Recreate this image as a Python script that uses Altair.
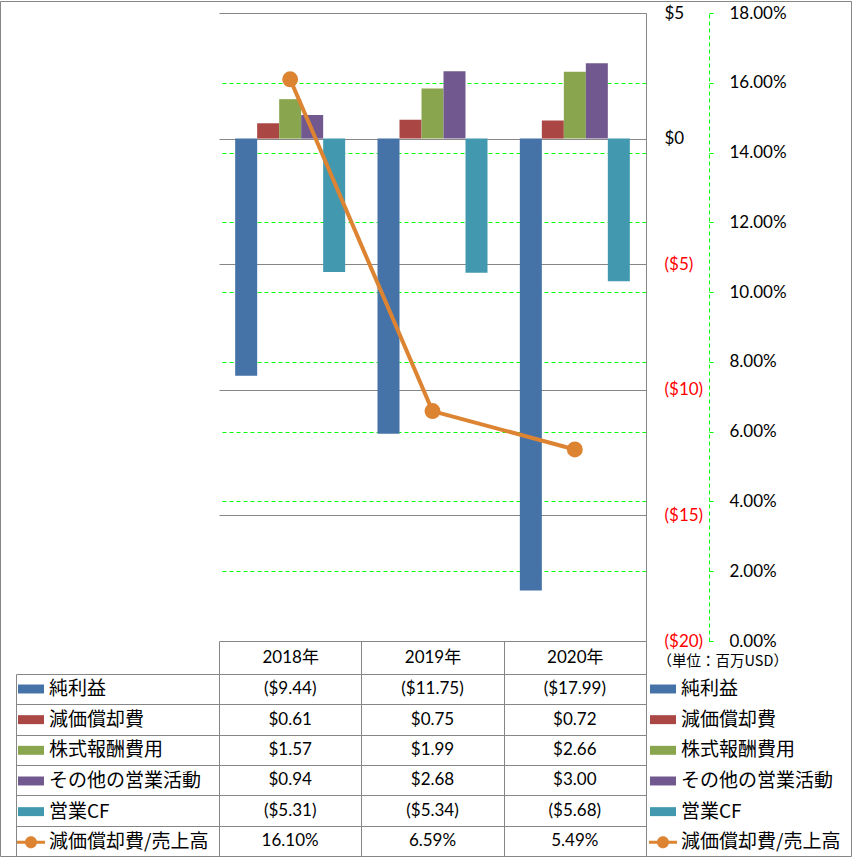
import altair as alt
import pandas as pd

# ---------------- data ----------------
years = ["2018年", "2019年", "2020年"]
series_names = ["純利益", "減価償却費", "株式報酬費用", "その他の営業活動", "営業CF", "減価償却費/売上高"]
net_income = [-9.44, -11.75, -17.99]
depreciation = [0.61, 0.75, 0.72]
stock_comp = [1.57, 1.99, 2.66]
other_ops = [0.94, 2.68, 3.00]
operating_cf = [-5.31, -5.34, -5.68]
dep_to_sales = [16.10, 6.59, 5.49]          # percent
usd_ticks = [-20, -15, -10, -5, 0, 5]
pct_ticks = [0, 2, 4, 6, 8, 10, 12, 14, 16, 18]
unit_label = "（単位：百万USD）"

colors = ["#4572A7", "#AA4643", "#89A54E", "#71588F", "#4198AF", "#DD8433"]
RECT = "M-0.93,-0.32H0.93V0.32H-0.93Z"
LINE_DOT = "M-1,-0.11H1V0.11H-1Z M-0.43,0A0.43,0.43 0 1,1 0.43,0A0.43,0.43 0 1,1 -0.43,0Z"
shapes = [RECT] * 5 + [LINE_DOT]

bar_series = series_names[:5]
bar_values = [net_income, depreciation, stock_comp, other_ops, operating_cf]

bars_df = pd.DataFrame(
    [{"year": y, "series": s, "value": vals[i]}
     for s, vals in zip(bar_series, bar_values) for i, y in enumerate(years)]
)
line_df = pd.DataFrame({"year": years, "pct": dep_to_sales})


def usd(v):
    return f"(${abs(v):.2f})" if v < 0 else f"${v:.2f}"


table_rows = []
for s, vals in zip(bar_series, bar_values):
    for y, v in zip(years, vals):
        table_rows.append({"series": s, "year": y, "label": usd(v)})
for y, v in zip(years, dep_to_sales):
    table_rows.append({"series": series_names[5], "year": y, "label": f"{v:.2f}%"})
table_df = pd.DataFrame(table_rows)
legend_df = pd.DataFrame({"series": series_names})
frame_df = pd.DataFrame({"frame": ["chart area"]})

# ---------------- style ----------------
W, H, TH = 427, 628, 182
LATIN = "Lato, 'Noto Sans CJK JP', sans-serif"
CJK = "'Noto Sans CJK JP', sans-serif"
GRAY = "#868686"
GREEN = "#00FF00"
ORANGE = "#DD8433"

year_scale = alt.Scale(domain=years, paddingInner=0, paddingOuter=0)
x_enc = alt.X("year:N", scale=year_scale, axis=None)

bars = alt.Chart(bars_df).mark_bar().encode(
    x=x_enc,
    xOffset=alt.XOffset("series:N", scale=alt.Scale(domain=bar_series, paddingInner=0, paddingOuter=0.735)),
    y=alt.Y(
        "value:Q",
        scale=alt.Scale(domain=[-20, 5], nice=False, zero=False),
        axis=alt.Axis(
            orient="right", values=usd_ticks, grid=True, gridColor=GRAY, gridWidth=1,
            domain=True, domainColor=GRAY, domainWidth=1, ticks=False,
            labelPadding=18, labelAlign="left", labelFont=LATIN, labelFontSize=17,
            labelExpr="datum.value < 0 ? '($' + abs(datum.value) + ')' : '$' + datum.value",
            labelColor={"condition": {"test": "datum.value < 0", "value": "#FF0000"}, "value": "#000000"},
            title=unit_label, titleAngle=0, titleX=11, titleY=648, titleAlign="left",
            titleBaseline="middle", titleFont=CJK, titleFontSize=14.5, titleFontWeight="normal",
            titleColor="#000000",
        ),
    ),
    color=alt.Color("series:N", scale=alt.Scale(domain=series_names, range=colors), legend=None),
)

pct_scale = alt.Scale(domain=[0, 18], nice=False, zero=False)
line = alt.Chart(line_df).mark_line(color=ORANGE, strokeWidth=4).encode(
    x=x_enc,
    y=alt.Y(
        "pct:Q", scale=pct_scale,
        axis=alt.Axis(
            orient="right", offset=63, values=pct_ticks, title=None,
            grid=True, gridColor=GREEN, gridDash=[4, 3], gridWidth=1,
            gridOpacity={"condition": {"test": "datum.value == 0 || datum.value == 18", "value": 0}, "value": 1},
            domain=True, domainColor=GREEN, domainDash=[4, 3], domainWidth=1,
            ticks=True, tickColor=GREEN, tickSize=4, tickWidth=1,
            labelPadding=16, labelFont=LATIN, labelFontSize=17, labelColor="#000000",
            labelExpr="format(datum.value, '.2f') + '%'",
        ),
    ),
)
points = alt.Chart(line_df).mark_circle(size=254, opacity=1, color=ORANGE).encode(
    x=x_enc, y=alt.Y("pct:Q", scale=pct_scale, axis=None)
)

top = alt.layer(bars, line, points).resolve_scale(y="independent").properties(width=W, height=H)

# ---------------- data table ----------------
row_scale = alt.Scale(domain=series_names, paddingInner=0, paddingOuter=0)

cells = alt.Chart(table_df).mark_text(font=LATIN, fontSize=17, color="#000000").encode(
    x=alt.X(
        "year:N", scale=year_scale,
        axis=alt.Axis(
            orient="top", title=None, domain=False, ticks=True, tickSize=33, tickBand="extent",
            tickColor=GRAY, tickWidth=1, grid=True, gridColor=GRAY, gridWidth=1,
            labelPadding=-16.5, labelBaseline="middle", labelAngle=0,
            labelFont=LATIN, labelFontSize=17, labelColor="#000000",
        ),
    ),
    y=alt.Y(
        "series:N", scale=row_scale,
        axis=alt.Axis(
            orient="left", title=None, domain=False, labels=False, ticks=True, tickSize=203,
            tickBand="extent", tickColor=GRAY, tickWidth=1, grid=True, gridColor=GRAY, gridWidth=1,
        ),
    ),
    text="label:N",
)


def key_layer(lx, with_axis):
    leg = alt.Legend(orient="none", legendX=lx, legendY=1)
    enc = dict(
        color=alt.Color("series:N", scale=alt.Scale(domain=series_names, range=colors), title=None, legend=leg),
        shape=alt.Shape("series:N", scale=alt.Scale(domain=series_names, range=shapes), title=None, legend=leg),
    )
    if with_axis:
        enc["y"] = alt.Y(
            "series:N", scale=row_scale,
            axis=alt.Axis(orient="left", offset=203, title=None, domain=True, domainColor=GRAY,
                          domainWidth=1, labels=False, ticks=False, grid=False),
        )
    return alt.Chart(legend_df).mark_point(filled=True, opacity=0).encode(**enc)


# outer chart-area border (decorative frame around the whole figure)
frame = alt.Chart(frame_df).mark_rect(fillOpacity=0, stroke=GRAY, strokeWidth=1, clip=False).encode(
    x=alt.value(-218.5), x2=alt.value(632.5), y=alt.value(-672.5), y2=alt.value(182.5)
)

table = (
    alt.layer(cells, key_layer(-202, True), key_layer(430, False), frame)
    .resolve_scale(color="independent", shape="independent")
    .resolve_axis(y="independent")
    .properties(width=W, height=TH)
)

chart = (
    alt.vconcat(top, table, spacing=33, bounds="flush")
    .resolve_scale(color="independent", shape="independent")
    .properties(padding={"left": 0, "top": 1, "right": 0, "bottom": 1})
    .configure_view(stroke=None)
    .configure_legend(
        labelFont=CJK, labelFontSize=19, labelColor="#000000", symbolSize=784,
        symbolStrokeWidth=0, symbolOpacity=1, rowPadding=6.66, labelLimit=300,
        labelOffset=4, padding=0,
    )
)

chart.save("out.html", embed_options={"renderer": "svg", "actions": False})
